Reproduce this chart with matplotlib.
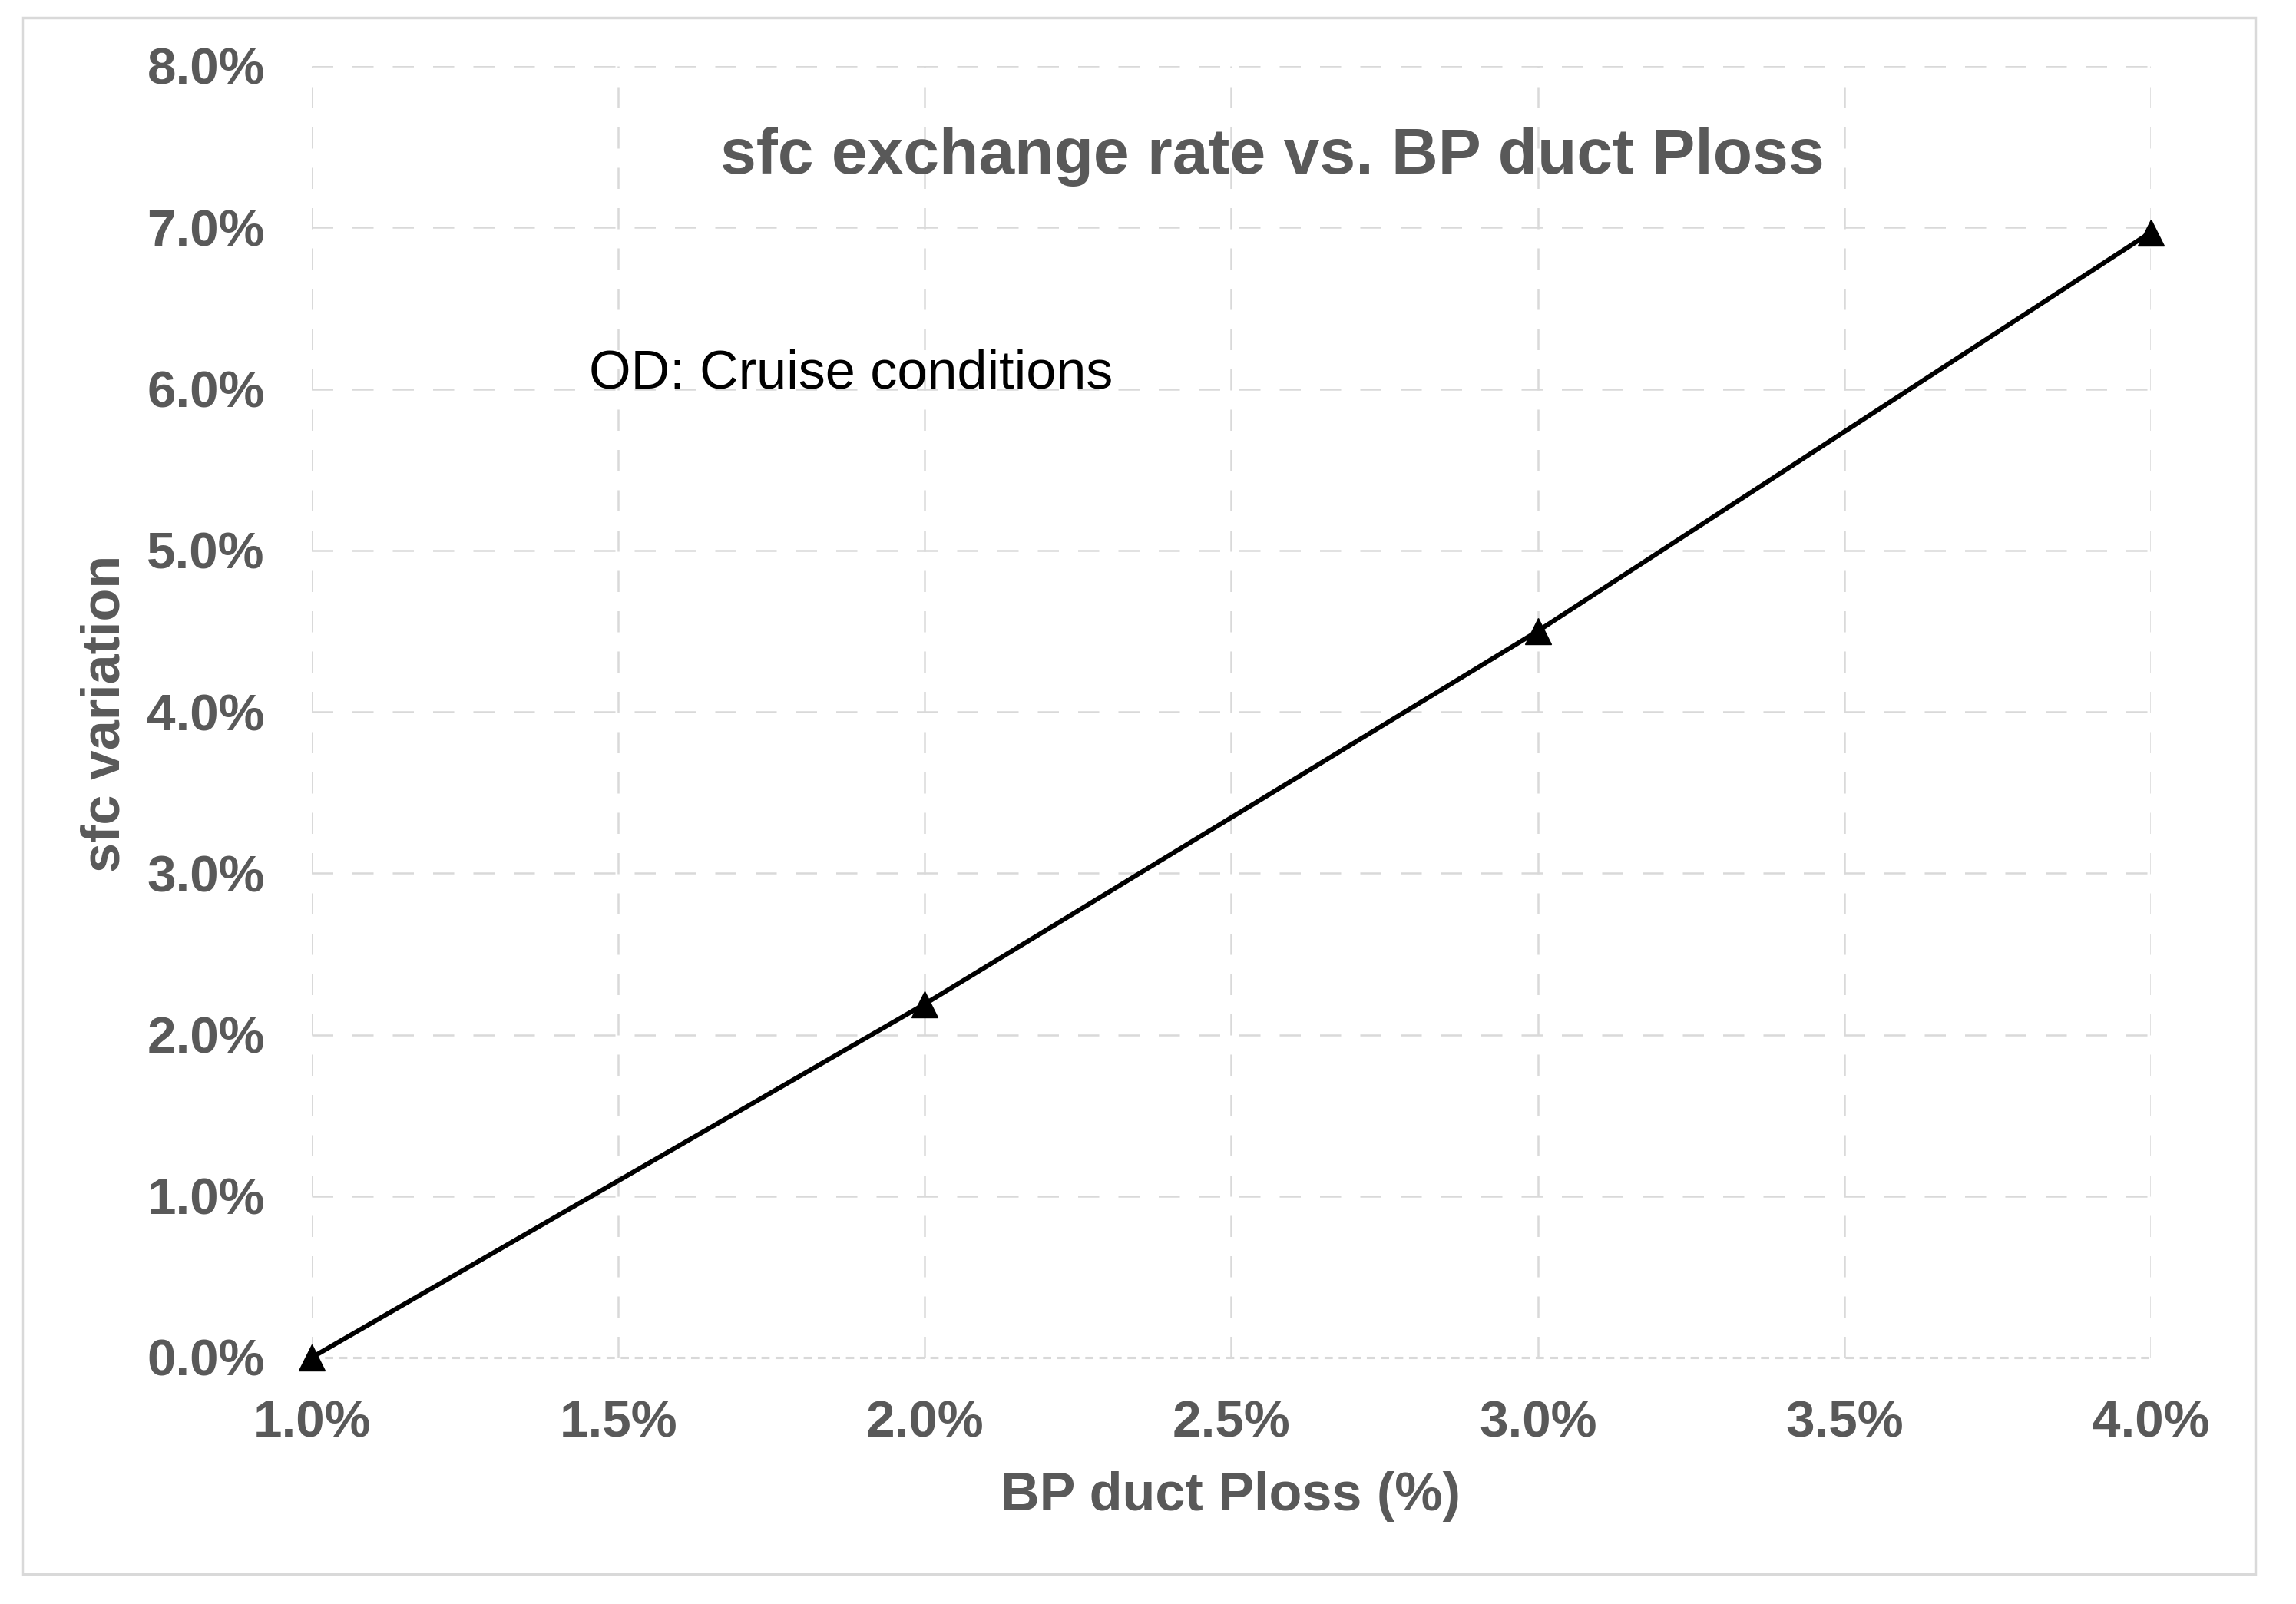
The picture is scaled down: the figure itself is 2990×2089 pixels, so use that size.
import matplotlib
matplotlib.use("Agg")
import matplotlib.pyplot as plt
from matplotlib.patches import Rectangle

# Data
ploss = [1.0, 2.0, 3.0, 4.0]
sfc_var = [0.0, 2.19, 4.50, 6.97]
x_ticks = [1.0, 1.5, 2.0, 2.5, 3.0, 3.5, 4.0]
x_tick_labels = ["1.0%", "1.5%", "2.0%", "2.5%", "3.0%", "3.5%", "4.0%"]
y_ticks = [0.0, 1.0, 2.0, 3.0, 4.0, 5.0, 6.0, 7.0, 8.0]
y_tick_labels = ["0.0%", "1.0%", "2.0%", "3.0%", "4.0%", "5.0%", "6.0%", "7.0%", "8.0%"]

plt.rcParams['font.family'] = ['Liberation Sans', 'DejaVu Sans']
GRAY = "#595959"
GRID = "#d9d9d9"

W, H = 2990, 2089
fig = plt.figure(figsize=(W / 100, H / 100), dpi=100)
fig.patch.set_facecolor("white")

# outer border
fig.patches.append(Rectangle((29 / W, 1 - 2050 / H), (2937 - 29) / W, (2050 - 23) / H,
                             transform=fig.transFigure, fill=False,
                             edgecolor=GRID, linewidth=2.5))

left, right, top, bottom = 406, 2801, 86, 1768
ax = fig.add_axes([left / W, 1 - bottom / H, (right - left) / W, (bottom - top) / H])

ax.plot(ploss, sfc_var, color="black", linewidth=4.4, marker="^",
        markersize=25, markerfacecolor="black", markeredgecolor="black",
        zorder=5, clip_on=False)

ax.set_xlim(1.0, 4.0)
ax.set_ylim(0.0, 8.0)
ax.set_xticks(x_ticks)
ax.set_xticklabels(x_tick_labels)
ax.set_yticks(y_ticks)
ax.set_yticklabels(y_tick_labels)

for s in ["top", "right", "left"]:
    ax.spines[s].set_visible(False)
ax.spines["bottom"].set_color(GRID)
ax.spines["bottom"].set_linewidth(2.2)
ax.spines["bottom"].set_linestyle((0, (2.5, 3.5)))

ax.grid(True, color=GRID, linewidth=1.8, linestyle=(0, (11, 10)))
ax.set_axisbelow(True)
ax.yaxis.get_gridlines()[0].set_visible(False)

ax.tick_params(axis="both", length=0, labelsize=48.5, labelcolor=GRAY)
ax.tick_params(axis="x", pad=40)
ax.tick_params(axis="y", pad=44)
for lab in ax.get_xticklabels() + ax.get_yticklabels():
    lab.set_fontweight("bold")

fig.text(1657 / W, 1 - 204 / H, "sfc exchange rate vs. BP duct Ploss",
         ha="center", va="center", fontsize=60.5, fontweight="bold", color=GRAY)
fig.text(1603 / W, 1 - 1949 / H, "BP duct Ploss (%)", ha="center", va="center",
         fontsize=50.5, fontweight="bold", color=GRAY)
fig.text(137 / W, 1 - 929 / H, "sfc variation", ha="center", va="center",
         rotation=90, fontsize=50.5, fontweight="bold", color=GRAY)
fig.text(767 / W, 1 - 488 / H, "OD: Cruise conditions", ha="left", va="center",
         fontsize=50.5, color="black")

fig.savefig("out.png", dpi=100, facecolor="white")
